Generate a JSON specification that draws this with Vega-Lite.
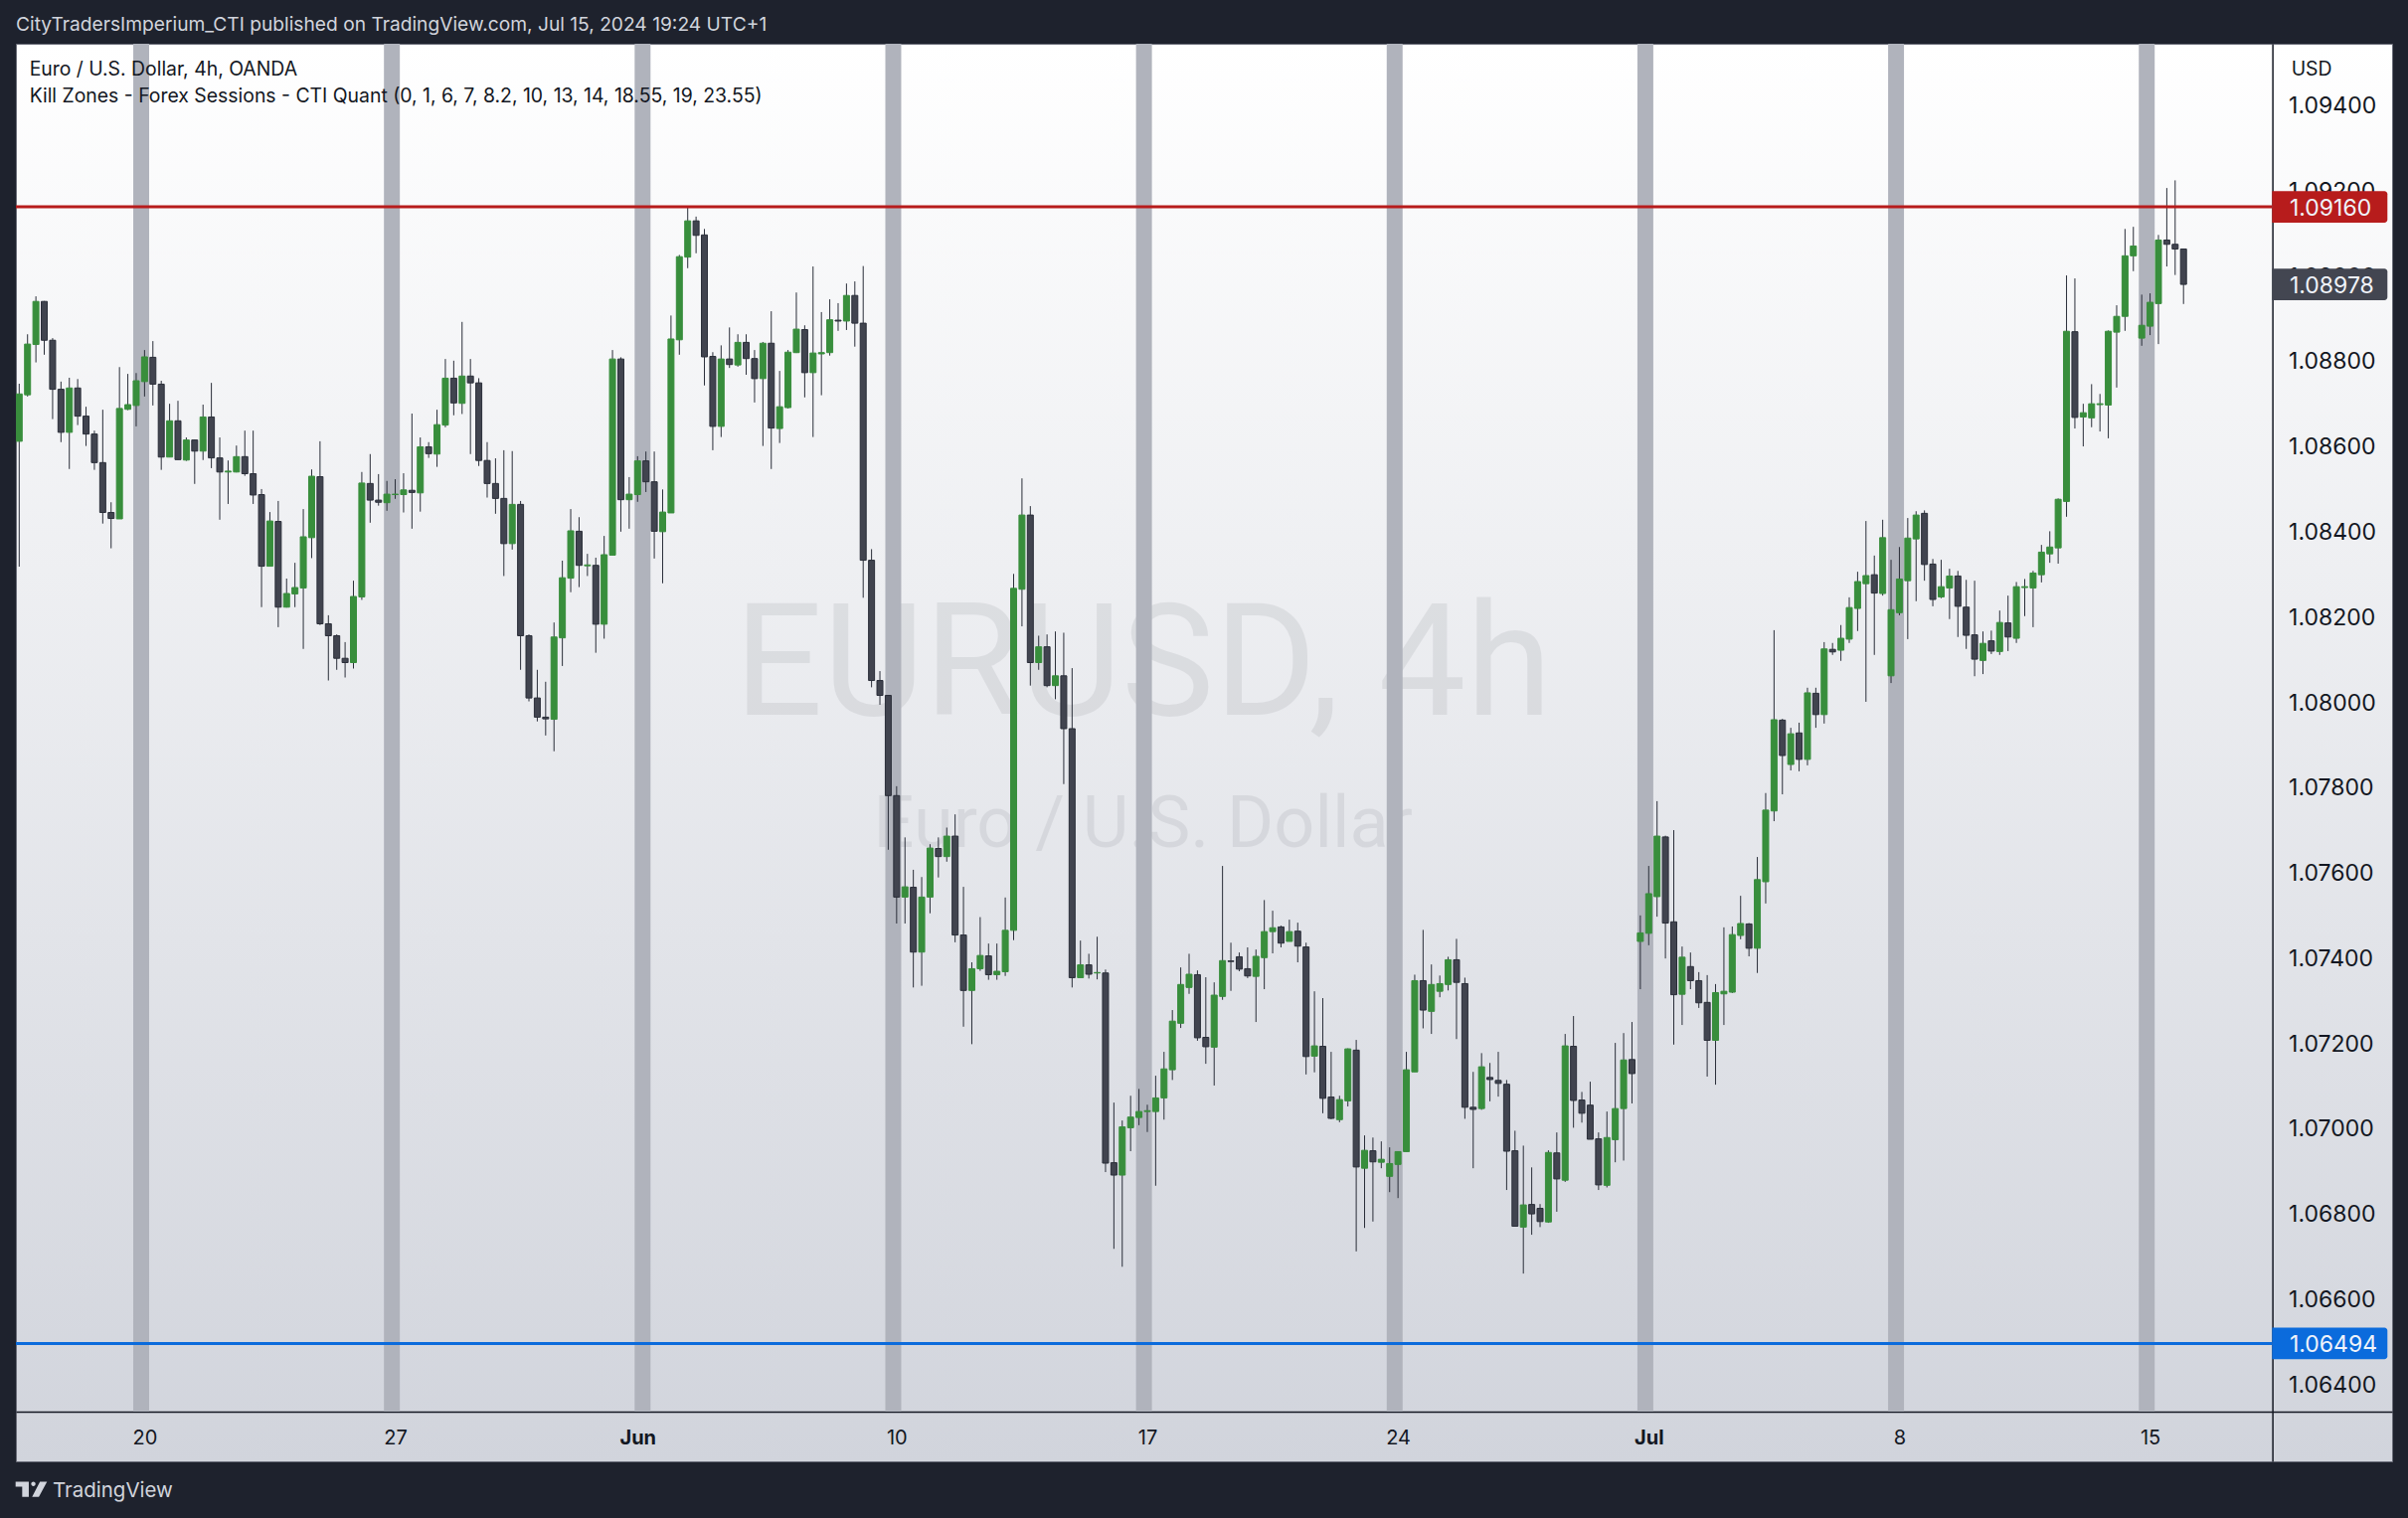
{
  "$schema": "https://vega.github.io/schema/vega-lite/v6.json",
  "width": 2390,
  "height": 1426,
  "autosize": "none",
  "padding": {"left": 16, "top": 44, "right": 16, "bottom": 57},
  "background": "#1e222d",
  "config": {"scale": {"continuousPadding": 0}},
  "resolve": {"axis": {"x": "independent", "y": "independent"}},
  "view": {
    "fill": {"gradient": "linear", "x1": 0, "y1": 0, "x2": 0, "y2": 1, "stops": [{"offset": 0, "color": "#ffffff"}, {"offset": 1, "color": "#d1d4dc"}]},
    "stroke": "#6a6d78",
    "strokeWidth": 1
  },
  "datasets": {
    "bars": [
      {"i":0,"o":1.08610,"h":1.08745,"l":1.08316,"c":1.08721},
      {"i":1,"o":1.08719,"h":1.08861,"l":1.08715,"c":1.08838},
      {"i":2,"o":1.08837,"h":1.08950,"l":1.08795,"c":1.08938},
      {"i":3,"o":1.08938,"h":1.08939,"l":1.08813,"c":1.08847},
      {"i":4,"o":1.08847,"h":1.08852,"l":1.08662,"c":1.08732},
      {"i":5,"o":1.08732,"h":1.08750,"l":1.08608,"c":1.08631},
      {"i":6,"o":1.08631,"h":1.08759,"l":1.08545,"c":1.08735},
      {"i":7,"o":1.08735,"h":1.08756,"l":1.08648,"c":1.08669},
      {"i":8,"o":1.08669,"h":1.08691,"l":1.08599,"c":1.08627},
      {"i":9,"o":1.08627,"h":1.08635,"l":1.08543,"c":1.08560},
      {"i":10,"o":1.08560,"h":1.08684,"l":1.08417,"c":1.08443},
      {"i":11,"o":1.08443,"h":1.08467,"l":1.08359,"c":1.08429},
      {"i":12,"o":1.08428,"h":1.08784,"l":1.08428,"c":1.08687},
      {"i":13,"o":1.08685,"h":1.08768,"l":1.08683,"c":1.08696},
      {"i":14,"o":1.08694,"h":1.08770,"l":1.08645,"c":1.08752},
      {"i":15,"o":1.08750,"h":1.08824,"l":1.08715,"c":1.08808},
      {"i":16,"o":1.08807,"h":1.08845,"l":1.08694,"c":1.08744},
      {"i":17,"o":1.08744,"h":1.08752,"l":1.08543,"c":1.08573},
      {"i":18,"o":1.08573,"h":1.08698,"l":1.08573,"c":1.08658},
      {"i":19,"o":1.08658,"h":1.08705,"l":1.08567,"c":1.08567},
      {"i":20,"o":1.08566,"h":1.08619,"l":1.08564,"c":1.08613},
      {"i":21,"o":1.08613,"h":1.08614,"l":1.08510,"c":1.08587},
      {"i":22,"o":1.08587,"h":1.08696,"l":1.08566,"c":1.08667},
      {"i":23,"o":1.08667,"h":1.08747,"l":1.08547,"c":1.08571},
      {"i":24,"o":1.08571,"h":1.08619,"l":1.08426,"c":1.08538},
      {"i":25,"o":1.08538,"h":1.08565,"l":1.08463,"c":1.08540},
      {"i":26,"o":1.08538,"h":1.08600,"l":1.08537,"c":1.08574},
      {"i":27,"o":1.08574,"h":1.08635,"l":1.08529,"c":1.08534},
      {"i":28,"o":1.08534,"h":1.08635,"l":1.08463,"c":1.08484},
      {"i":29,"o":1.08485,"h":1.08498,"l":1.08221,"c":1.08317},
      {"i":30,"o":1.08317,"h":1.08444,"l":1.08317,"c":1.08423},
      {"i":31,"o":1.08422,"h":1.08470,"l":1.08174,"c":1.08221},
      {"i":32,"o":1.08221,"h":1.08288,"l":1.08220,"c":1.08253},
      {"i":33,"o":1.08252,"h":1.08325,"l":1.08221,"c":1.08267},
      {"i":34,"o":1.08266,"h":1.08451,"l":1.08123,"c":1.08386},
      {"i":35,"o":1.08384,"h":1.08544,"l":1.08336,"c":1.08528},
      {"i":36,"o":1.08527,"h":1.08610,"l":1.08179,"c":1.08182},
      {"i":37,"o":1.08182,"h":1.08202,"l":1.08049,"c":1.08154},
      {"i":38,"o":1.08154,"h":1.08157,"l":1.08074,"c":1.08101},
      {"i":39,"o":1.08101,"h":1.08139,"l":1.08056,"c":1.08091},
      {"i":40,"o":1.08091,"h":1.08283,"l":1.08077,"c":1.08246},
      {"i":41,"o":1.08245,"h":1.08538,"l":1.08238,"c":1.08512},
      {"i":42,"o":1.08511,"h":1.08580,"l":1.08419,"c":1.08472},
      {"i":43,"o":1.08472,"h":1.08533,"l":1.08459,"c":1.08467},
      {"i":44,"o":1.08466,"h":1.08517,"l":1.08447,"c":1.08486},
      {"i":45,"o":1.08485,"h":1.08521,"l":1.08475,"c":1.08486},
      {"i":46,"o":1.08485,"h":1.08535,"l":1.08443,"c":1.08496},
      {"i":47,"o":1.08495,"h":1.08675,"l":1.08405,"c":1.08490},
      {"i":48,"o":1.08489,"h":1.08619,"l":1.08445,"c":1.08597},
      {"i":49,"o":1.08597,"h":1.08608,"l":1.08571,"c":1.08581},
      {"i":50,"o":1.08580,"h":1.08684,"l":1.08550,"c":1.08649},
      {"i":51,"o":1.08648,"h":1.08803,"l":1.08643,"c":1.08758},
      {"i":52,"o":1.08758,"h":1.08799,"l":1.08671,"c":1.08700},
      {"i":53,"o":1.08699,"h":1.08890,"l":1.08674,"c":1.08763},
      {"i":54,"o":1.08763,"h":1.08803,"l":1.08580,"c":1.08747},
      {"i":55,"o":1.08747,"h":1.08758,"l":1.08552,"c":1.08565},
      {"i":56,"o":1.08565,"h":1.08608,"l":1.08478,"c":1.08511},
      {"i":57,"o":1.08511,"h":1.08570,"l":1.08440,"c":1.08476},
      {"i":58,"o":1.08476,"h":1.08589,"l":1.08294,"c":1.08370},
      {"i":59,"o":1.08370,"h":1.08587,"l":1.08356,"c":1.08462},
      {"i":60,"o":1.08462,"h":1.08470,"l":1.08074,"c":1.08154},
      {"i":61,"o":1.08154,"h":1.08157,"l":1.08000,"c":1.08008},
      {"i":62,"o":1.08008,"h":1.08074,"l":1.07953,"c":1.07963},
      {"i":63,"o":1.07963,"h":1.08046,"l":1.07920,"c":1.07959},
      {"i":64,"o":1.07958,"h":1.08185,"l":1.07883,"c":1.08151},
      {"i":65,"o":1.08149,"h":1.08330,"l":1.08083,"c":1.08290},
      {"i":66,"o":1.08289,"h":1.08451,"l":1.08256,"c":1.08400},
      {"i":67,"o":1.08399,"h":1.08432,"l":1.08268,"c":1.08319},
      {"i":68,"o":1.08318,"h":1.08346,"l":1.08294,"c":1.08320},
      {"i":69,"o":1.08319,"h":1.08337,"l":1.08114,"c":1.08181},
      {"i":70,"o":1.08181,"h":1.08388,"l":1.08147,"c":1.08344},
      {"i":71,"o":1.08343,"h":1.08824,"l":1.08343,"c":1.08803},
      {"i":72,"o":1.08803,"h":1.08807,"l":1.08398,"c":1.08473},
      {"i":73,"o":1.08473,"h":1.08526,"l":1.08405,"c":1.08486},
      {"i":74,"o":1.08485,"h":1.08575,"l":1.08468,"c":1.08564},
      {"i":75,"o":1.08564,"h":1.08586,"l":1.08491,"c":1.08515},
      {"i":76,"o":1.08515,"h":1.08586,"l":1.08335,"c":1.08399},
      {"i":77,"o":1.08398,"h":1.08497,"l":1.08277,"c":1.08444},
      {"i":78,"o":1.08442,"h":1.08905,"l":1.08442,"c":1.08850},
      {"i":79,"o":1.08848,"h":1.09047,"l":1.08813,"c":1.09043},
      {"i":80,"o":1.09042,"h":1.09160,"l":1.09016,"c":1.09127},
      {"i":81,"o":1.09127,"h":1.09137,"l":1.09051,"c":1.09093},
      {"i":82,"o":1.09094,"h":1.09108,"l":1.08741,"c":1.08808},
      {"i":83,"o":1.08809,"h":1.08819,"l":1.08589,"c":1.08645},
      {"i":84,"o":1.08645,"h":1.08835,"l":1.08620,"c":1.08803},
      {"i":85,"o":1.08803,"h":1.08877,"l":1.08782,"c":1.08790},
      {"i":86,"o":1.08789,"h":1.08861,"l":1.08785,"c":1.08842},
      {"i":87,"o":1.08842,"h":1.08861,"l":1.08766,"c":1.08804},
      {"i":88,"o":1.08804,"h":1.08824,"l":1.08701,"c":1.08757},
      {"i":89,"o":1.08757,"h":1.08843,"l":1.08599,"c":1.08840},
      {"i":90,"o":1.08840,"h":1.08915,"l":1.08545,"c":1.08641},
      {"i":91,"o":1.08640,"h":1.08775,"l":1.08606,"c":1.08691},
      {"i":92,"o":1.08689,"h":1.08824,"l":1.08687,"c":1.08819},
      {"i":93,"o":1.08818,"h":1.08959,"l":1.08817,"c":1.08873},
      {"i":94,"o":1.08872,"h":1.08882,"l":1.08713,"c":1.08771},
      {"i":95,"o":1.08771,"h":1.09020,"l":1.08620,"c":1.08817},
      {"i":96,"o":1.08815,"h":1.08913,"l":1.08718,"c":1.08818},
      {"i":97,"o":1.08818,"h":1.08943,"l":1.08811,"c":1.08895},
      {"i":98,"o":1.08894,"h":1.08934,"l":1.08869,"c":1.08892},
      {"i":99,"o":1.08892,"h":1.08980,"l":1.08871,"c":1.08952},
      {"i":100,"o":1.08952,"h":1.08985,"l":1.08832,"c":1.08887},
      {"i":101,"o":1.08887,"h":1.09021,"l":1.08243,"c":1.08331},
      {"i":102,"o":1.08331,"h":1.08357,"l":1.08033,"c":1.08049},
      {"i":103,"o":1.08049,"h":1.08071,"l":1.07992,"c":1.08014},
      {"i":104,"o":1.08014,"h":1.08015,"l":1.07652,"c":1.07779},
      {"i":105,"o":1.07779,"h":1.07801,"l":1.07479,"c":1.07541},
      {"i":106,"o":1.07541,"h":1.07681,"l":1.07479,"c":1.07565},
      {"i":107,"o":1.07564,"h":1.07605,"l":1.07329,"c":1.07412},
      {"i":108,"o":1.07412,"h":1.07588,"l":1.07333,"c":1.07541},
      {"i":109,"o":1.07541,"h":1.07665,"l":1.07503,"c":1.07656},
      {"i":110,"o":1.07655,"h":1.07681,"l":1.07587,"c":1.07636},
      {"i":111,"o":1.07636,"h":1.07704,"l":1.07624,"c":1.07684},
      {"i":112,"o":1.07684,"h":1.07735,"l":1.07435,"c":1.07452},
      {"i":113,"o":1.07452,"h":1.07565,"l":1.07237,"c":1.07322},
      {"i":114,"o":1.07322,"h":1.07388,"l":1.07196,"c":1.07373},
      {"i":115,"o":1.07373,"h":1.07494,"l":1.07368,"c":1.07404},
      {"i":116,"o":1.07403,"h":1.07432,"l":1.07347,"c":1.07359},
      {"i":117,"o":1.07359,"h":1.07432,"l":1.07347,"c":1.07367},
      {"i":118,"o":1.07366,"h":1.07540,"l":1.07356,"c":1.07463},
      {"i":119,"o":1.07463,"h":1.08299,"l":1.07440,"c":1.08265},
      {"i":120,"o":1.08263,"h":1.08523,"l":1.08176,"c":1.08437},
      {"i":121,"o":1.08437,"h":1.08458,"l":1.08037,"c":1.08091},
      {"i":122,"o":1.08091,"h":1.08154,"l":1.08074,"c":1.08128},
      {"i":123,"o":1.08128,"h":1.08157,"l":1.08033,"c":1.08037},
      {"i":124,"o":1.08037,"h":1.08164,"l":1.08005,"c":1.08060},
      {"i":125,"o":1.08060,"h":1.08161,"l":1.07806,"c":1.07936},
      {"i":126,"o":1.07936,"h":1.08078,"l":1.07329,"c":1.07352},
      {"i":127,"o":1.07352,"h":1.07439,"l":1.07352,"c":1.07382},
      {"i":128,"o":1.07382,"h":1.07408,"l":1.07350,"c":1.07360},
      {"i":129,"o":1.07363,"h":1.07448,"l":1.07348,"c":1.07364},
      {"i":130,"o":1.07363,"h":1.07371,"l":1.06896,"c":1.06917},
      {"i":131,"o":1.06918,"h":1.07059,"l":1.06716,"c":1.06889},
      {"i":132,"o":1.06889,"h":1.07017,"l":1.06674,"c":1.07002},
      {"i":133,"o":1.07000,"h":1.07075,"l":1.06945,"c":1.07025},
      {"i":134,"o":1.07024,"h":1.07091,"l":1.07006,"c":1.07038},
      {"i":135,"o":1.07038,"h":1.07054,"l":1.06990,"c":1.07040},
      {"i":136,"o":1.07038,"h":1.07122,"l":1.06864,"c":1.07070},
      {"i":137,"o":1.07070,"h":1.07178,"l":1.07019,"c":1.07138},
      {"i":138,"o":1.07136,"h":1.07276,"l":1.07112,"c":1.07250},
      {"i":139,"o":1.07245,"h":1.07376,"l":1.07234,"c":1.07336},
      {"i":140,"o":1.07329,"h":1.07408,"l":1.07314,"c":1.07360},
      {"i":141,"o":1.07359,"h":1.07369,"l":1.07204,"c":1.07211},
      {"i":142,"o":1.07212,"h":1.07353,"l":1.07150,"c":1.07190},
      {"i":143,"o":1.07189,"h":1.07341,"l":1.07099,"c":1.07311},
      {"i":144,"o":1.07308,"h":1.07614,"l":1.07300,"c":1.07392},
      {"i":145,"o":1.07391,"h":1.07434,"l":1.07321,"c":1.07390},
      {"i":146,"o":1.07401,"h":1.07411,"l":1.07367,"c":1.07372},
      {"i":147,"o":1.07373,"h":1.07423,"l":1.07351,"c":1.07356},
      {"i":148,"o":1.07355,"h":1.07418,"l":1.07248,"c":1.07402},
      {"i":149,"o":1.07399,"h":1.07534,"l":1.07325,"c":1.07460},
      {"i":150,"o":1.07460,"h":1.07509,"l":1.07409,"c":1.07469},
      {"i":151,"o":1.07471,"h":1.07474,"l":1.07423,"c":1.07433},
      {"i":152,"o":1.07437,"h":1.07488,"l":1.07437,"c":1.07460},
      {"i":153,"o":1.07461,"h":1.07481,"l":1.07388,"c":1.07426},
      {"i":154,"o":1.07424,"h":1.07434,"l":1.07125,"c":1.07167},
      {"i":155,"o":1.07168,"h":1.07320,"l":1.07130,"c":1.07192},
      {"i":156,"o":1.07191,"h":1.07304,"l":1.07034,"c":1.07069},
      {"i":157,"o":1.07072,"h":1.07178,"l":1.07020,"c":1.07022},
      {"i":158,"o":1.07019,"h":1.07075,"l":1.07013,"c":1.07066},
      {"i":159,"o":1.07063,"h":1.07186,"l":1.07050,"c":1.07185},
      {"i":160,"o":1.07182,"h":1.07206,"l":1.06710,"c":1.06908},
      {"i":161,"o":1.06905,"h":1.06982,"l":1.06765,"c":1.06947},
      {"i":162,"o":1.06946,"h":1.06977,"l":1.06780,"c":1.06920},
      {"i":163,"o":1.06919,"h":1.06968,"l":1.06905,"c":1.06926},
      {"i":164,"o":1.06886,"h":1.06954,"l":1.06849,"c":1.06916},
      {"i":165,"o":1.06914,"h":1.06945,"l":1.06835,"c":1.06944},
      {"i":166,"o":1.06944,"h":1.07178,"l":1.06944,"c":1.07136},
      {"i":167,"o":1.07131,"h":1.07359,"l":1.07131,"c":1.07345},
      {"i":168,"o":1.07345,"h":1.07464,"l":1.07233,"c":1.07276},
      {"i":169,"o":1.07273,"h":1.07383,"l":1.07220,"c":1.07336},
      {"i":170,"o":1.07320,"h":1.07357,"l":1.07306,"c":1.07338},
      {"i":171,"o":1.07336,"h":1.07401,"l":1.07322,"c":1.07394},
      {"i":172,"o":1.07394,"h":1.07443,"l":1.07208,"c":1.07341},
      {"i":173,"o":1.07338,"h":1.07352,"l":1.07021,"c":1.07048},
      {"i":174,"o":1.07048,"h":1.07131,"l":1.06905,"c":1.07043},
      {"i":175,"o":1.07045,"h":1.07175,"l":1.07042,"c":1.07143},
      {"i":176,"o":1.07118,"h":1.07152,"l":1.07062,"c":1.07113},
      {"i":177,"o":1.07111,"h":1.07178,"l":1.07073,"c":1.07104},
      {"i":178,"o":1.07102,"h":1.07112,"l":1.06854,"c":1.06945},
      {"i":179,"o":1.06946,"h":1.06993,"l":1.06768,"c":1.06769},
      {"i":180,"o":1.06767,"h":1.06958,"l":1.06658,"c":1.06819},
      {"i":181,"o":1.06820,"h":1.06907,"l":1.06749,"c":1.06798},
      {"i":182,"o":1.06811,"h":1.06821,"l":1.06767,"c":1.06780},
      {"i":183,"o":1.06779,"h":1.06947,"l":1.06777,"c":1.06942},
      {"i":184,"o":1.06941,"h":1.06989,"l":1.06803,"c":1.06880},
      {"i":185,"o":1.06877,"h":1.07220,"l":1.06873,"c":1.07192},
      {"i":186,"o":1.07191,"h":1.07262,"l":1.07000,"c":1.07064},
      {"i":187,"o":1.07065,"h":1.07084,"l":1.07012,"c":1.07034},
      {"i":188,"o":1.07053,"h":1.07108,"l":1.06973,"c":1.06973},
      {"i":189,"o":1.06974,"h":1.06989,"l":1.06854,"c":1.06866},
      {"i":190,"o":1.06865,"h":1.07038,"l":1.06860,"c":1.06977},
      {"i":191,"o":1.06972,"h":1.07199,"l":1.06919,"c":1.07045},
      {"i":192,"o":1.07045,"h":1.07222,"l":1.06923,"c":1.07159},
      {"i":193,"o":1.07160,"h":1.07248,"l":1.07057,"c":1.07127},
      {"i":194,"o":1.07437,"h":1.07498,"l":1.07325,"c":1.07457},
      {"i":195,"o":1.07456,"h":1.07614,"l":1.07428,"c":1.07549},
      {"i":196,"o":1.07542,"h":1.07766,"l":1.07495,"c":1.07684},
      {"i":197,"o":1.07682,"h":1.07685,"l":1.07397,"c":1.07480},
      {"i":198,"o":1.07483,"h":1.07698,"l":1.07195,"c":1.07312},
      {"i":199,"o":1.07313,"h":1.07425,"l":1.07241,"c":1.07400},
      {"i":200,"o":1.07378,"h":1.07411,"l":1.07325,"c":1.07345},
      {"i":201,"o":1.07345,"h":1.07365,"l":1.07281,"c":1.07293},
      {"i":202,"o":1.07294,"h":1.07358,"l":1.07120,"c":1.07205},
      {"i":203,"o":1.07205,"h":1.07337,"l":1.07101,"c":1.07317},
      {"i":204,"o":1.07314,"h":1.07470,"l":1.07241,"c":1.07320},
      {"i":205,"o":1.07318,"h":1.07472,"l":1.07316,"c":1.07453},
      {"i":206,"o":1.07451,"h":1.07544,"l":1.07442,"c":1.07479},
      {"i":207,"o":1.07478,"h":1.07480,"l":1.07402,"c":1.07421},
      {"i":208,"o":1.07421,"h":1.07635,"l":1.07363,"c":1.07582},
      {"i":209,"o":1.07577,"h":1.07785,"l":1.07526,"c":1.07745},
      {"i":210,"o":1.07743,"h":1.08167,"l":1.07719,"c":1.07957},
      {"i":211,"o":1.07956,"h":1.07959,"l":1.07782,"c":1.07873},
      {"i":212,"o":1.07852,"h":1.07938,"l":1.07838,"c":1.07924},
      {"i":213,"o":1.07926,"h":1.07950,"l":1.07836,"c":1.07864},
      {"i":214,"o":1.07864,"h":1.08032,"l":1.07850,"c":1.08020},
      {"i":215,"o":1.08019,"h":1.08032,"l":1.07938,"c":1.07969},
      {"i":216,"o":1.07969,"h":1.08139,"l":1.07948,"c":1.08123},
      {"i":217,"o":1.08122,"h":1.08137,"l":1.08109,"c":1.08116},
      {"i":218,"o":1.08120,"h":1.08179,"l":1.08095,"c":1.08148},
      {"i":219,"o":1.08146,"h":1.08244,"l":1.08137,"c":1.08220},
      {"i":220,"o":1.08218,"h":1.08304,"l":1.08165,"c":1.08281},
      {"i":221,"o":1.08276,"h":1.08423,"l":1.07999,"c":1.08295},
      {"i":222,"o":1.08297,"h":1.08342,"l":1.08109,"c":1.08254},
      {"i":223,"o":1.08253,"h":1.08426,"l":1.08248,"c":1.08384},
      {"i":224,"o":1.08060,"h":1.08332,"l":1.08043,"c":1.08215},
      {"i":225,"o":1.08208,"h":1.08362,"l":1.08202,"c":1.08287},
      {"i":226,"o":1.08283,"h":1.08430,"l":1.08146,"c":1.08383},
      {"i":227,"o":1.08381,"h":1.08446,"l":1.08235,"c":1.08437},
      {"i":228,"o":1.08441,"h":1.08448,"l":1.08283,"c":1.08321},
      {"i":229,"o":1.08322,"h":1.08334,"l":1.08223,"c":1.08239},
      {"i":230,"o":1.08245,"h":1.08332,"l":1.08242,"c":1.08269},
      {"i":231,"o":1.08266,"h":1.08311,"l":1.08193,"c":1.08294},
      {"i":232,"o":1.08294,"h":1.08306,"l":1.08151,"c":1.08223},
      {"i":233,"o":1.08221,"h":1.08285,"l":1.08123,"c":1.08155},
      {"i":234,"o":1.08156,"h":1.08283,"l":1.08059,"c":1.08099},
      {"i":235,"o":1.08096,"h":1.08164,"l":1.08064,"c":1.08136},
      {"i":236,"o":1.08142,"h":1.08166,"l":1.08111,"c":1.08118},
      {"i":237,"o":1.08117,"h":1.08213,"l":1.08109,"c":1.08185},
      {"i":238,"o":1.08184,"h":1.08248,"l":1.08118,"c":1.08151},
      {"i":239,"o":1.08148,"h":1.08280,"l":1.08137,"c":1.08269},
      {"i":240,"o":1.08267,"h":1.08287,"l":1.08200,"c":1.08269},
      {"i":241,"o":1.08266,"h":1.08306,"l":1.08174,"c":1.08301},
      {"i":242,"o":1.08297,"h":1.08367,"l":1.08279,"c":1.08350},
      {"i":243,"o":1.08346,"h":1.08399,"l":1.08325,"c":1.08362},
      {"i":244,"o":1.08360,"h":1.08476,"l":1.08323,"c":1.08474},
      {"i":245,"o":1.08469,"h":1.08999,"l":1.08433,"c":1.08868},
      {"i":246,"o":1.08867,"h":1.08992,"l":1.08640,"c":1.08666},
      {"i":247,"o":1.08667,"h":1.08698,"l":1.08598,"c":1.08677},
      {"i":248,"o":1.08665,"h":1.08744,"l":1.08643,"c":1.08698},
      {"i":249,"o":1.08696,"h":1.08721,"l":1.08633,"c":1.08698},
      {"i":250,"o":1.08695,"h":1.08870,"l":1.08617,"c":1.08868},
      {"i":251,"o":1.08866,"h":1.08929,"l":1.08736,"c":1.08903},
      {"i":252,"o":1.08903,"h":1.09108,"l":1.08869,"c":1.09045},
      {"i":253,"o":1.09045,"h":1.09113,"l":1.09009,"c":1.09068},
      {"i":254,"o":1.08852,"h":1.08954,"l":1.08834,"c":1.08882},
      {"i":255,"o":1.08880,"h":1.08957,"l":1.08859,"c":1.08936},
      {"i":256,"o":1.08933,"h":1.09094,"l":1.08838,"c":1.09082},
      {"i":257,"o":1.09082,"h":1.09204,"l":1.09020,"c":1.09072},
      {"i":258,"o":1.09072,"h":1.09222,"l":1.09000,"c":1.09061},
      {"i":259,"o":1.09061,"h":1.09062,"l":1.08932,"c":1.08978}
    ],
    "zones": [
      {"x0":13.65,"x1":15.55},{"x0":43.65,"x1":45.55},{"x0":73.65,"x1":75.55},
      {"x0":103.65,"x1":105.55},{"x0":133.65,"x1":135.55},{"x0":163.65,"x1":165.55},
      {"x0":193.65,"x1":195.55},{"x0":223.65,"x1":225.55},{"x0":253.65,"x1":255.55}
    ],
    "levels": [
      {"kind":"high","price":1.0916,"top":1.09197,"bottom":1.09123,"label":"1.09160"},
      {"kind":"low","price":1.06494,"top":1.06531,"bottom":1.06457,"label":"1.06494"},
      {"kind":"last","price":1.08978,"top":1.09015,"bottom":1.08941,"label":"1.08978"}
    ]
  },
  "layer": [
    {
      "data": {"values": [{"x": 134.5, "y": 1.08078, "text": "EURUSD, 4h"}]},
      "mark": {"type": "text", "font": "Roboto", "fontSize": 157, "align": "center", "baseline": "middle", "color": "#131722", "opacity": 0.07},
      "encoding": {
        "x": {"field": "x", "type": "quantitative", "scale": {"domain": [-0.393, 283.96], "nice": false},
          "axis": {"title": null, "orient": "bottom", "offset": -50, "grid": false, "ticks": false, "domainColor": "#131722", "domainWidth": 1.5,
            "values": [15, 45, 74, 105, 135, 165, 195, 225, 255],
            "labelExpr": "{15:'20',45:'27',74:'Jun',105:'10',135:'17',165:'24',195:'Jul',225:'8',255:'15'}[datum.value]",
            "labelFont": "Inter", "labelFontSize": 20, "labelColor": "#131722", "labelPadding": 16, "labelOverlap": false, "labelFlush": false,
            "labelFontWeight": {"condition": {"test": "datum.value==74||datum.value==195", "value": 700}, "value": 400}}},
        "y": {"field": "y", "type": "quantitative", "scale": {"domain": [1.062176, 1.095424], "nice": false},
          "axis": {"title": null, "orient": "right", "offset": -120.4, "grid": false, "ticks": false, "domainColor": "#131722", "domainWidth": 1.5,
            "values": [1.064, 1.066, 1.068, 1.07, 1.072, 1.074, 1.076, 1.078, 1.08, 1.082, 1.084, 1.086, 1.088, 1.09, 1.092, 1.094],
            "format": ".5f", "labelFont": "Inter", "labelFontSize": 23, "labelColor": "#131722", "labelPadding": 16, "labelOffset": 1.5, "labelOverlap": false, "labelFlush": false}},
        "text": {"field": "text"}
      }
    },
    {
      "data": {"values": [{"x": 134.5, "y": 1.0771, "text": "Euro / U.S. Dollar"}]},
      "mark": {"type": "text", "font": "Roboto", "fontSize": 72, "align": "center", "baseline": "middle", "color": "#131722", "opacity": 0.07},
      "encoding": {
        "x": {"field": "x", "type": "quantitative", "scale": {"domain": [-0.393, 283.96], "nice": false}, "axis": null},
        "y": {"field": "y", "type": "quantitative", "scale": {"domain": [1.062176, 1.095424], "nice": false}, "axis": null},
        "text": {"field": "text"}
      }
    },
    {
      "data": {"name": "zones"},
      "transform": [{"calculate": "1.095424", "as": "top"}, {"calculate": "1.06334", "as": "bottom"}],
      "mark": {"type": "rect", "color": "#b0b3bc"},
      "encoding": {
        "x": {"field": "x0", "type": "quantitative", "scale": {"domain": [-0.393, 283.96], "nice": false}, "axis": null},
        "x2": {"field": "x1"},
        "y": {"field": "top", "type": "quantitative", "scale": {"domain": [1.062176, 1.095424], "nice": false}, "axis": null},
        "y2": {"field": "bottom"}
      }
    },
    {
      "data": {"name": "bars"},
      "mark": {"type": "rule", "color": "#2a2e39", "strokeWidth": 1, "clip": true},
      "encoding": {
        "x": {"field": "i", "type": "quantitative", "scale": {"domain": [-0.393, 283.96], "nice": false}, "axis": null},
        "y": {"field": "h", "type": "quantitative", "scale": {"domain": [1.062176, 1.095424], "nice": false}, "axis": null},
        "y2": {"field": "l"}
      }
    },
    {
      "data": {"name": "bars"},
      "mark": {"type": "bar", "size": 6, "strokeWidth": 1, "clip": true},
      "encoding": {
        "x": {"field": "i", "type": "quantitative", "scale": {"domain": [-0.393, 283.96], "nice": false}, "axis": null},
        "y": {"field": "o", "type": "quantitative", "scale": {"domain": [1.062176, 1.095424], "nice": false}, "axis": null},
        "y2": {"field": "c"},
        "fill": {"condition": {"test": "datum.c>=datum.o", "value": "#388e3c"}, "value": "#41444f"},
        "stroke": {"condition": {"test": "datum.c>=datum.o", "value": "#388e3c"}, "value": "#2a2e39"}
      }
    },
    {
      "data": {"name": "levels"},
      "transform": [{"filter": "datum.kind!='last'"}, {"calculate": "-0.393", "as": "x0"}, {"calculate": "269.6", "as": "x1"}],
      "mark": {"type": "rule", "strokeWidth": 3},
      "encoding": {
        "x": {"field": "x0", "type": "quantitative", "scale": {"domain": [-0.393, 283.96], "nice": false}, "axis": null},
        "x2": {"field": "x1"},
        "y": {"field": "price", "type": "quantitative", "scale": {"domain": [1.062176, 1.095424], "nice": false}, "axis": null},
        "color": {"field": "kind", "type": "nominal", "legend": null, "scale": {"domain": ["high", "low", "last"], "range": ["#b71c1c", "#0b6bdc", "#434651"]}}
      }
    },
    {
      "data": {"name": "levels"},
      "transform": [{"calculate": "269.6", "as": "x0"}, {"calculate": "283.4", "as": "x1"}],
      "mark": {"type": "rect", "cornerRadiusTopRight": 3, "cornerRadiusBottomRight": 3},
      "encoding": {
        "x": {"field": "x0", "type": "quantitative", "scale": {"domain": [-0.393, 283.96], "nice": false}, "axis": null},
        "x2": {"field": "x1"},
        "y": {"field": "top", "type": "quantitative", "scale": {"domain": [1.062176, 1.095424], "nice": false}, "axis": null},
        "y2": {"field": "bottom"},
        "color": {"field": "kind", "type": "nominal", "legend": null, "scale": {"domain": ["high", "low", "last"], "range": ["#b71c1c", "#0b6bdc", "#434651"]}}
      }
    },
    {
      "data": {"name": "levels"},
      "transform": [{"calculate": "271.7", "as": "x0"}],
      "mark": {"type": "text", "font": "Inter", "fontSize": 23, "align": "left", "baseline": "middle", "dy": 1.5, "color": "#f0f3fa"},
      "encoding": {
        "x": {"field": "x0", "type": "quantitative", "scale": {"domain": [-0.393, 283.96], "nice": false}, "axis": null},
        "y": {"field": "price", "type": "quantitative", "scale": {"domain": [1.062176, 1.095424], "nice": false}, "axis": null},
        "text": {"field": "label"}
      }
    },
    {
      "data": {"values": [
        {"x": 1.23, "y": 1.09486, "text": "Euro / U.S. Dollar, 4h, OANDA"},
        {"x": 1.23, "y": 1.09423, "text": "Kill Zones - Forex Sessions - CTI Quant (0, 1, 6, 7, 8.2, 10, 13, 14, 18.55, 19, 23.55)"},
        {"x": 271.9, "y": 1.09486, "text": "USD"}
      ]},
      "mark": {"type": "text", "font": "Inter", "fontSize": 19.4, "align": "left", "baseline": "middle", "dy": 1.5, "color": "#131722"},
      "encoding": {
        "x": {"field": "x", "type": "quantitative", "scale": {"domain": [-0.393, 283.96], "nice": false}, "axis": null},
        "y": {"field": "y", "type": "quantitative", "scale": {"domain": [1.062176, 1.095424], "nice": false}, "axis": null},
        "text": {"field": "text"}
      }
    },
    {
      "data": {"values": [{"x": -0.39, "y": 1.09587, "text": "CityTradersImperium_CTI published on TradingView.com, Jul 15, 2024 19:24 UTC+1"}]},
      "mark": {"type": "text", "font": "Inter", "fontSize": 19.2, "align": "left", "baseline": "middle", "color": "#d1d4dc"},
      "encoding": {
        "x": {"field": "x", "type": "quantitative", "scale": {"domain": [-0.393, 283.96], "nice": false}, "axis": null},
        "y": {"field": "y", "type": "quantitative", "scale": {"domain": [1.062176, 1.095424], "nice": false}, "axis": null},
        "text": {"field": "text"}
      }
    },
    {
      "data": {"values": [{"x": 4.0, "y": 1.06148, "text": "TradingView"}]},
      "mark": {"type": "text", "font": "Inter", "fontSize": 20.5, "align": "left", "baseline": "middle", "color": "#d1d4dc"},
      "encoding": {
        "x": {"field": "x", "type": "quantitative", "scale": {"domain": [-0.393, 283.96], "nice": false}, "axis": null},
        "y": {"field": "y", "type": "quantitative", "scale": {"domain": [1.062176, 1.095424], "nice": false}, "axis": null},
        "text": {"field": "text"}
      }
    },
    {
      "data": {"values": [{"x": 1.45, "y": 1.06152}]},
      "mark": {"type": "point", "filled": true, "size": 1000, "opacity": 1, "color": "#d1d4dc", "strokeWidth": 0,
        "shape": "M-1 -.48H-.16V.48H-.58V-.17H-1ZM-.01 -.34A.14 .14 0 1 1 .27 -.34A.14 .14 0 1 1 -.01 -.34ZM.55 -.48H1L.48 .48H.05Z"},
      "encoding": {
        "x": {"field": "x", "type": "quantitative", "scale": {"domain": [-0.393, 283.96], "nice": false}, "axis": null},
        "y": {"field": "y", "type": "quantitative", "scale": {"domain": [1.062176, 1.095424], "nice": false}, "axis": null}
      }
    }
  ]
}
